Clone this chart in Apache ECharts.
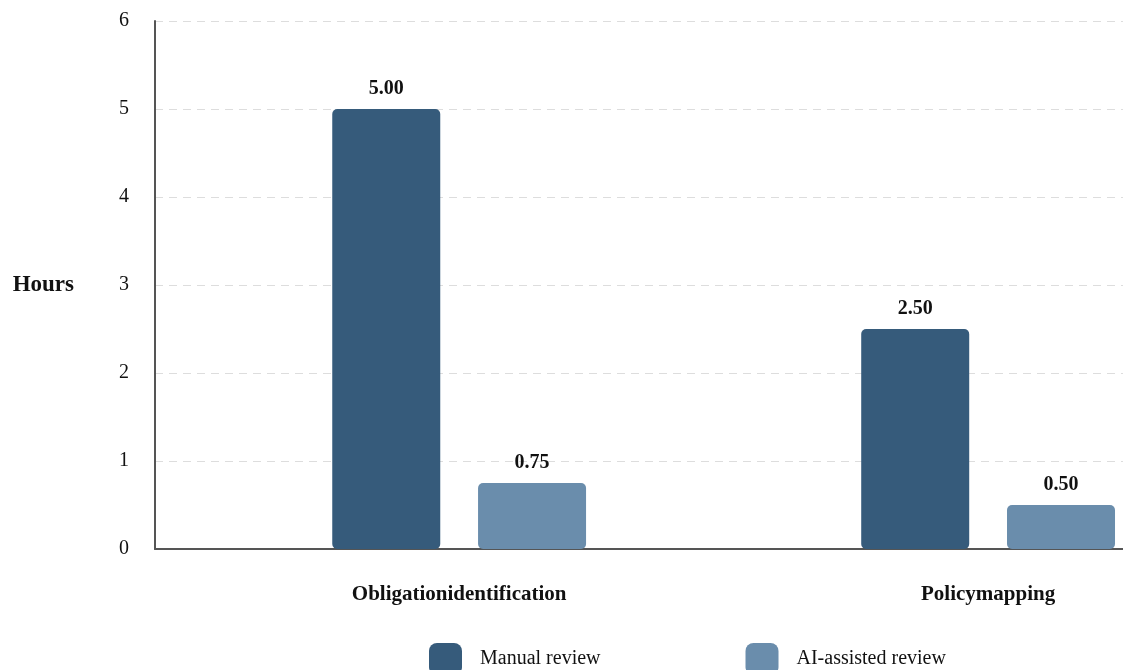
<!DOCTYPE html>
<html>
<head>
<meta charset="utf-8">
<script src="https://cdn.jsdelivr.net/npm/echarts@6/dist/echarts.min.js"></script>
<style>html,body{margin:0;padding:0;background:#fff}#c{width:1123px;height:670px}</style>
</head>
<body>
<div id="c"></div>
<script>
const categories = ['Obligationidentification', 'Policymapping'];
const seriesNames = ['Manual review', 'AI-assisted review'];
const manualReview = [5.00, 2.50];
const aiAssisted = [0.75, 0.50];
const yTicks = [0, 1, 2, 3, 4, 5, 6];
const categoryIndex = categories.map((c, i) => i);

const FONT = 'Liberation Serif';
const chart = echarts.init(document.getElementById('c'));
chart.setOption({
  animation: false,
  backgroundColor: '#ffffff',
  grid: { left: 155, right: 0, top: 21, bottom: 121, containLabel: false, outerBoundsMode: 'none' },
  legend: {
    left: 429, top: 643, padding: 0,
    itemWidth: 33, itemHeight: 32, itemGap: 145,
    icon: 'roundRect',
    data: seriesNames,
    textStyle: { fontFamily: FONT, fontSize: 20, color: '#111', padding: [4, 0, 0, 13] }
  },
  xAxis: {
    type: 'value',
    min: -0.575, max: 1.255,
    splitLine: { show: false },
    axisTick: { show: false },
    axisLine: { show: true, lineStyle: { color: '#555', width: 2 } },
    axisLabel: {
      customValues: categoryIndex,
      formatter: v => categories[Math.round(v)] || '',
      margin: 35,
      fontFamily: FONT, fontSize: 21, fontWeight: 'bold', color: '#111'
    }
  },
  yAxis: {
    type: 'value',
    min: yTicks[0], max: yTicks[yTicks.length - 1], interval: 1,
    name: 'Hours',
    nameLocation: 'middle',
    nameRotate: 0,
    nameGap: 81,
    nameTextStyle: { fontFamily: FONT, fontSize: 23, fontWeight: 'bold', color: '#111' },
    axisLine: { show: true, onZero: false, lineStyle: { color: '#555', width: 2 } },
    axisTick: { show: false },
    axisLabel: { margin: 26, fontFamily: FONT, fontSize: 20, color: '#111', padding: [4, 0, 0, 0] },
    splitLine: { show: true, lineStyle: { color: '#dddddd', type: [8, 6], width: 1 } }
  },
  series: [
    {
      name: seriesNames[0], type: 'bar',
      data: categoryIndex.map(i => [i, manualReview[i]]),
      barWidth: 108, barGap: '35%',
      itemStyle: { color: '#365b7b', borderRadius: 5 },
      label: { show: true, position: 'top', distance: 10, formatter: p => p.value[1].toFixed(2),
        fontFamily: FONT, fontSize: 20, fontWeight: 'bold', color: '#111' }
    },
    {
      name: seriesNames[1], type: 'bar',
      data: categoryIndex.map(i => [i, aiAssisted[i]]),
      barWidth: 108, barGap: '35%',
      itemStyle: { color: '#6a8dac', borderRadius: 5 },
      label: { show: true, position: 'top', distance: 10, formatter: p => p.value[1].toFixed(2),
        fontFamily: FONT, fontSize: 20, fontWeight: 'bold', color: '#111' }
    }
  ]
});
</script>
</body>
</html>
